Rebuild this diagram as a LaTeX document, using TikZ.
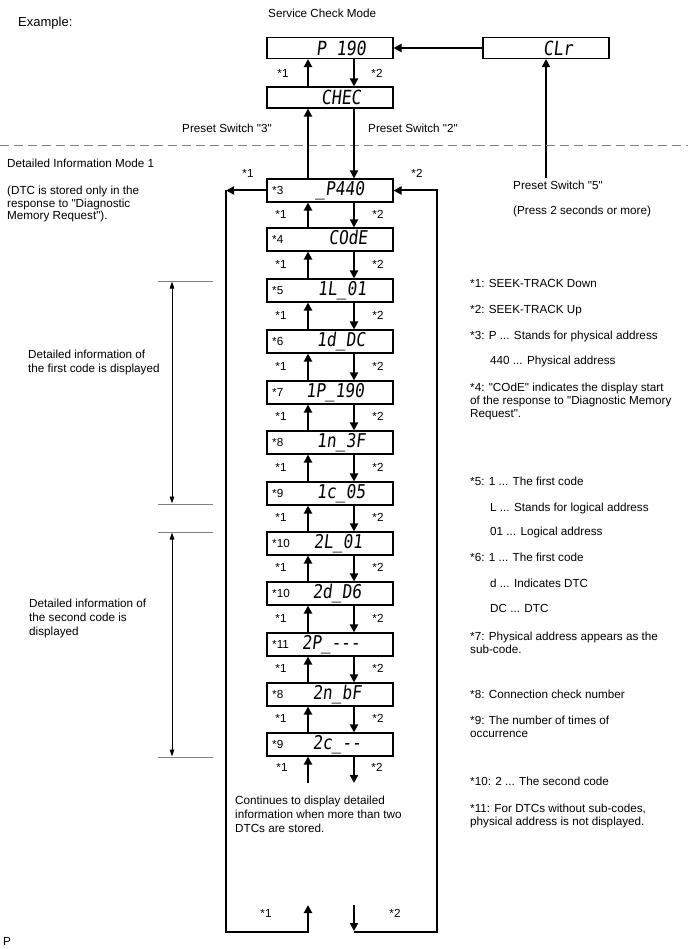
\documentclass[tikz,border=0pt]{standalone}
\usepackage{fontspec}
\setmainfont{Liberation Sans}[Ligatures=TeXOff]
\newfontfamily\segfont[FakeSlant=0.12,FakeStretch=0.85]{DejaVu Sans Mono}
\usetikzlibrary{arrows.meta}
\newcommand\segus{\symbol{95}}
\tikzset{
  txt/.style={inner sep=0pt, font=\fontsize{11.7}{13}\selectfont, text height=8.4pt, text depth=0pt},
  txtw/.style={txt, anchor=west},
  dbox/.style={draw, line width=1.1pt, minimum width=126pt, minimum height=23pt, inner sep=0pt},
  tbox/.style={dbox, minimum height=21pt},
  seg/.style={inner sep=0pt, font=\segfont\fontsize{19.5}{20}\selectfont, text height=14.2pt, text depth=0pt},
  segc/.style={inner sep=0pt, font=\segfont\fontsize{19}{20}\selectfont, text height=13.9pt, text depth=0pt, yshift=2.2pt},
  conn/.style={line width=2pt, -{Triangle[length=8pt,width=8pt]}},
  dimarr/.style={line width=0.9pt, {Triangle[length=7pt,width=4.5pt]}-{Triangle[length=7pt,width=4.5pt]}},
  tickline/.style={line width=0.8pt, draw=gray},
}
\begin{document}
\begin{tikzpicture}[x=1pt,y=-1pt]
\useasboundingbox (0,0) rectangle (688,949);

% coordinates for arrow columns
\coordinate (ux) at (308,0);
\coordinate (dx) at (354,0);

% top texts
\node[txtw, font=\fontsize{13}{15}\selectfont, text height=9.3pt] (ex) at (18,22) {Example:};
\node[txtw] (scm) at (268,13) {Service Check Mode};

% top boxes
\node[tbox] (p190) at (330,48) {};
\node[seg] (p190t) at (341,48) {P 190};
\node[tbox] (clr) at (546,48) {};
\node[seg] (clrt) at (558,48) {CLr};
\node[tbox] (chec) at (330,97.5) {};
\node[seg] (chect) at (341,97.5) {CHEC};

\draw[conn] (clr.west) -- (p190.east);
\draw[conn] (chec.north -| ux) -- (p190.south -| ux);
\draw[conn] (p190.south -| dx) -- (chec.north -| dx);
\node[txt] (t1a) at (283,73) {*1};
\node[txt] (t2a) at (377,73) {*2};

\node[txt, anchor=east] (ps3) at (272,128) {Preset Switch "3"};
\node[txtw] (ps2) at (368,128) {Preset Switch "2"};

\coordinate (p5) at (546,178);
\draw[conn] (p5) -- (p5 |- clr.south);
\node[txtw] (ps5) at (513,185) {Preset Switch "5"};
\node[txtw] (ps5b) at (513,210) {(Press 2 seconds or more)};

% dashed separator
\draw[gray, line width=0.9pt, dash pattern=on 9pt off 5pt] (0,145) -- (688,145);

% left texts
\node[txtw] (dim) at (7,163) {Detailed Information Mode 1};
\node[txtw] (dl1) at (7,190.5) {(DTC is stored only in the};
\node[txtw] (dl2) at (7,203) {response to "Diagnostic};
\node[txtw] (dl3) at (7,215) {Memory Request").};

\node[txtw] (f1) at (28,354) {Detailed information of};
\node[txtw] (f2) at (28,368) {the first code is displayed};
\node[txtw] (s1) at (29,603) {Detailed information of};
\node[txtw] (s2) at (29,617) {the second code is};
\node[txtw] (s3) at (29,631) {displayed};

% dimension marks
\draw[tickline] (158,281) -- (213,281);
\draw[tickline] (158,504) -- (213,504);
\draw[tickline] (158,532) -- (213,532);
\draw[tickline] (158,757) -- (213,757);
\draw[dimarr] (172,281.5) -- (172,503.5);
\draw[dimarr] (172,532.5) -- (172,756.5);

% column boxes
\foreach \i/\t/\lab/\txtv/\cx in {
  0/179/*3/{\segus P440}/340,
  1/228/*4/COdE/348,
  2/279/*5/{1L\segus 01}/342,
  3/330/*6/{1d\segus DC}/341,
  4/381/*7/{1P\segus 190}/335,
  5/431/*8/{1n\segus 3F}/341,
  6/482/*9/{1c\segus 05}/341,
  7/532/*10/{2L\segus 01}/338,
  8/582/*10/{2d\segus D6}/337,
  9/633/*11/{2P\segus -{}-{}-}/331,
  10/683/*8/{2n\segus bF}/337,
  11/733/*9/{2c\segus -{}-}/337} {
  \node[dbox] (c\i) at (330,\t+11.5) {};
  \node[txtw] (cl\i) at (272,\t+11.5) {\lab};
  \node[segc] (ct\i) at (\cx,\t+11.5) {\txtv};
}

\draw[conn] (c0.north -| ux) -- (chec.south -| ux);
\draw[conn] (chec.south -| dx) -- (c0.north -| dx);
\node[txt] (t1b) at (248,173) {*1};
\node[txt] (t2b) at (417,173) {*2};

\foreach \i [evaluate=\i as \j using int(\i+1)] in {0,...,10} {
  \draw[conn] (c\j.north -| ux) -- (c\i.south -| ux);
  \draw[conn] (c\i.south -| dx) -- (c\j.north -| dx);
  \path (c\i.south) -- (c\j.north) coordinate[midway] (m\i);
  \node[txt] (k1\i) at ([yshift=1pt]m\i -| 281,0) {*1};
  \node[txt] (k2\i) at ([yshift=1pt]m\i -| 378,0) {*2};
}

% below last box
\coordinate (eu) at (308,783);
\coordinate (ed) at (354,783);
\draw[conn] (eu) -- (c11.south -| eu);
\draw[conn] (c11.south -| ed) -- (ed);
\node[txt] (k1e) at (282,767) {*1};
\node[txt] (k2e) at (377,767) {*2};

\node[txtw] (co1) at (235,800) {Continues to display detailed};
\node[txtw] (co2) at (235,814) {information when more than two};
\node[txtw] (co3) at (235,828) {DTCs are stored.};

% loops
\coordinate (lt) at (226,190.5);
\coordinate (lb) at (226,932);
\coordinate (rt) at (437,190.5);
\coordinate (rb) at (437,932);
\coordinate (ltip) at (308,905);
\coordinate (dtop) at (354,905);
\coordinate (dbot) at (354,931);
\draw[conn] (c0.west) -- (lt);
\draw[conn] (lt) -- (lb) -- (lb -| ltip) -- (ltip);
\draw[conn] (dtop) -- (dbot);
\draw[conn] (rb -| dtop) -- (rb) -- (rt) -- (c0.east);
\node[txt] (k1f) at (266,913) {*1};
\node[txt] (k2f) at (395,913) {*2};

% right notes
\node[txtw] (r1) at (470,283) {*1: SEEK-TRACK Down};
\node[txtw] (r2) at (470,309) {*2: SEEK-TRACK Up};
\node[txtw] (r3) at (470,335) {*3: P ... Stands for physical address};
\node[txtw] (r4) at (490,360) {440 ... Physical address};
\node[txtw] (r5) at (470,387) {*4: "COdE" indicates the display start};
\node[txtw] (r6) at (470,400) {of the response to "Diagnostic Memory};
\node[txtw] (r7) at (470,413) {Request".};
\node[txtw] (r8) at (470,481) {*5: 1 ... The first code};
\node[txtw] (r9) at (490,507) {L ... Stands for logical address};
\node[txtw] (r10) at (490,531) {01 ... Logical address};
\node[txtw] (r11) at (470,557) {*6: 1 ... The first code};
\node[txtw] (r12) at (490,583) {d ... Indicates DTC};
\node[txtw] (r13) at (490,608) {DC ... DTC};
\node[txtw] (r14) at (470,636) {*7: Physical address appears as the};
\node[txtw] (r15) at (470,649) {sub-code.};
\node[txtw] (r16) at (470,694) {*8: Connection check number};
\node[txtw] (r17) at (470,720) {*9: The number of times of};
\node[txtw] (r18) at (470,733) {occurrence};
\node[txtw] (r19) at (470,781) {*10: 2 ... The second code};
\node[txtw] (r20) at (470,808) {*11: For DTCs without sub-codes,};
\node[txtw] (r21) at (470,821) {physical address is not displayed.};

\node[txtw] (pp) at (3,941) {P};
\end{tikzpicture}
\end{document}
